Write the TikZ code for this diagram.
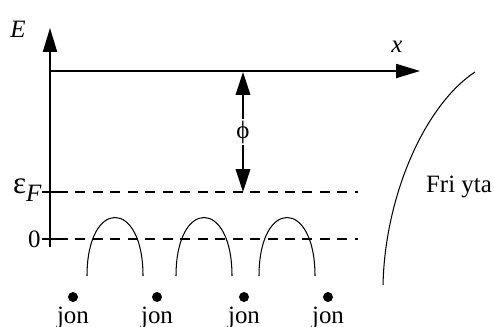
\documentclass[tikz,border=0pt]{standalone}
\usepackage{fontspec}
\setmainfont{Liberation Serif}
\usetikzlibrary{arrows.meta,positioning}

\begin{document}
\begin{tikzpicture}[x=0.0169cm,y=-0.0169cm,
  axis/.style={line width=0.7pt},
  tip/.style={-{Triangle[length=11.5pt,width=6.8pt]}},
  level/.style={line width=0.6pt,dash pattern=on 4.8pt off 3.6pt},
  thin/.style={line width=0.5pt},
  lbl/.style={inner sep=0pt,font=\fontsize{12}{14}\selectfont},
  txt/.style={inner sep=0pt,font=\fontsize{12}{14}\selectfont}]
\useasboundingbox (0,0) rectangle (494,326);
% axes
\coordinate (o) at (50,247);
\coordinate (etop) at (50,28);
\coordinate (xs) at (50,71);
\coordinate (xe) at (420,71);
\draw[axis,tip] (o) -- (etop);
\draw[axis,tip] (xs) -- (xe);
\node[lbl] (elab) at (18,29) {\textit{E}};
\node[lbl] (xlab) at (397,47) {\textit{x}};
% levels
\coordinate (f0) at (42,192);
\coordinate (f1) at (58,192);
\coordinate (f2) at (358,192);
\coordinate (z0) at (42,239);
\coordinate (z1) at (58,239);
\coordinate (z2) at (358,239);
\draw[axis] (f0) -- (f1);
\draw[level] (f1) -- (f2);
\draw[axis] (z0) -- (z1);
\draw[level] (z1) -- (z2);
\node[txt,anchor=east] (eflab) at (42,190) {{\fontsize{15}{15}\selectfont ε}\raisebox{-0.7ex}{\textit{F}}};
\node[lbl,anchor=east] (zlab) at (41,239) {0};
% work function
\coordinate (p0) at (243,72);
\coordinate (p1) at (243,192);
\draw[axis,{Triangle[length=11pt,width=7pt]}-{Triangle[length=11pt,width=7pt]}] (p0) -- (p1);
\node[txt,fill=white,inner sep=1pt] (phi) at (243,132) {ϕ};
% barriers and ions
\foreach \c in {115,204,287}
  \draw[thin] (\c-28,276) .. controls (\c-28,198) and (\c+28,198) .. (\c+28,276);
\foreach \x [count=\i] in {73,157,244,328} {
  \fill (\x,297) circle[radius=2.4pt];
  \node[txt,anchor=base] (ion\i) at (\x,323) {jon};
}
% surface
\draw[thin] (383,285) .. controls (385,195) and (425,105) .. (475,72);
\node[txt] (fri) at (459,187) {Fri yta};
\end{tikzpicture}
\end{document}
